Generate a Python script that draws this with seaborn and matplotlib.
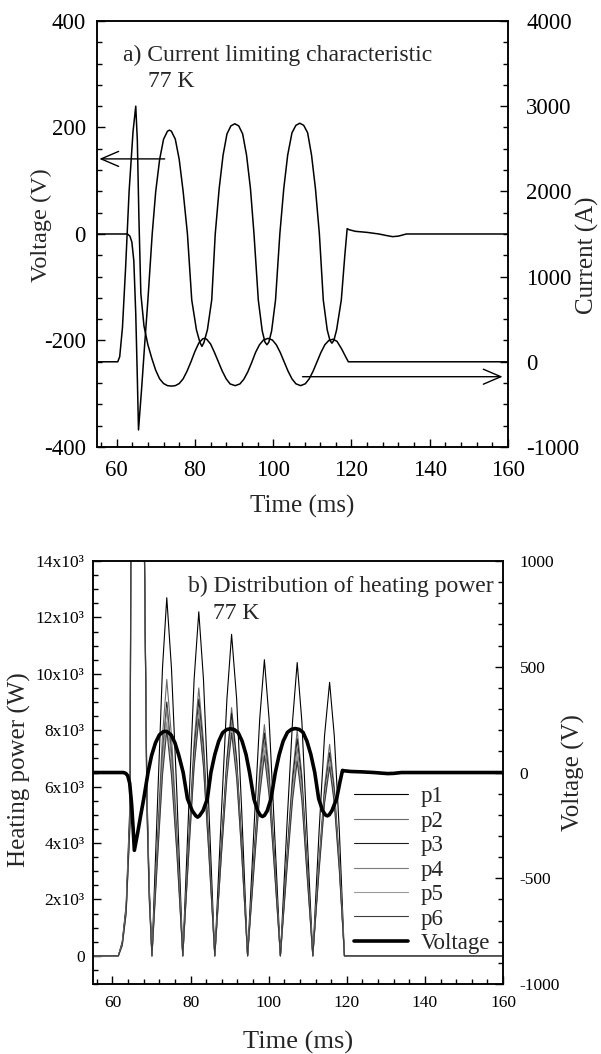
import matplotlib
matplotlib.use('Agg')
import matplotlib.pyplot as plt
from matplotlib.ticker import MultipleLocator
import seaborn as sns

# ---- data ----
# (a) voltage across limiter (V) and line current (A)
t_volt = [55, 62.8, 63.4, 63.9, 64.4, 64.9, 65.3, 65.6, 66.4, 67.2, 68.0, 69.1,
          70.0, 71.0, 72.0, 73.0, 73.5, 74.0, 75.0, 76.0, 77.0, 78.1,
          79.2, 80.4, 81.3, 81.8, 82.3, 83.2, 84.3,
          85.2, 86.2, 87.2, 88.2, 89.2, 90.2, 91.2, 92.2, 93.2, 94.2, 95.1,
          96.2, 97.2, 97.9, 98.4, 98.9, 99.6, 100.6,
          101.7, 102.7, 103.7, 104.8, 105.8, 106.8, 107.8, 108.8, 109.8, 110.8, 111.8,
          112.8, 113.8, 114.5, 115.0, 115.5, 116.2, 117.4,
          118.3, 118.9, 119.4, 121, 124, 127, 129, 130.5, 132, 134, 160]
voltage = [0, 0, -4, -15, -50, -150, -270, -368, -290, -205, -124, 0,
           80, 140, 178, 193, 195, 193, 178, 140, 80, 0,
           -124, -180, -204, -211, -204, -180, -124,
           0, 85, 148, 188, 203, 207, 203, 188, 148, 85, 0,
           -124, -182, -203, -208, -203, -182, -124,
           0, 85, 148, 190, 204, 208, 204, 190, 148, 85, 0,
           -124, -180, -200, -205, -200, -180, -124,
           -40, 10, 8, 5, 3, 0, -3, -5, -4, 0, 0]

t_curr = [55, 60.3, 60.8, 61.5, 62.3, 63.2, 64.2, 64.9, 65.3, 65.7,
          66.2, 67.0, 68.0, 69.0, 70.0, 71.0, 72.0, 73.0, 74.0, 75.0,
          76.0, 77.0, 78.0, 79.0, 80.0, 81.0, 82.0, 82.5, 83.0, 84.0,
          85.0, 86.0, 87.0, 88.0, 89.0, 90.3, 91.5, 92.5, 93.5, 94.5,
          95.5, 96.5, 97.5, 98.7, 99.8, 100.8, 101.8, 102.8, 103.8, 104.8,
          105.8, 107.0, 108.2, 109.2, 110.2, 111.2, 112.2, 113.2, 114.2, 115.3,
          116.3, 117.5, 118.5, 119.2, 160]
current = [0, 0, 60, 400, 1100, 2000, 2700, 3000, 2600, 1700,
           800, 420, 200, 40, -100, -200, -255, -280, -285, -280,
           -255, -200, -110, 0, 120, 220, 270, 275, 265, 210,
           110, 0, -110, -200, -260, -280, -260, -205, -120, -10,
           110, 200, 255, 275, 255, 200, 110, 0, -110, -200,
           -258, -280, -258, -200, -110, 0, 110, 200, 250, 265,
           240, 150, 60, 0, 0]

# (b) heating power of the six parts (W)
t_power = [55, 61.5, 62.5, 63.5, 64.5, 65.2, 67.8, 68.2, 68.8, 69.4,
           70.1, 71.6, 72.8, 73.9, 75.1, 76.5,
           78.0, 79.6, 80.9, 82.1, 83.3, 84.6,
           86.2, 87.9, 89.3, 90.5, 91.8, 93.1,
           94.6, 96.3, 97.7, 98.9, 100.1, 101.4,
           103.0, 104.7, 106.1, 107.3, 108.5, 109.7,
           111.3, 112.9, 114.3, 115.6, 116.8, 118.1,
           119.4, 160]
p1 = [0, 0, 500, 1800, 5500, 40000, 40000, 14000, 6000, 2500,
      0, 5700, 10200, 12700, 10200, 5700,
      0, 5500, 9800, 12200, 9800, 5500,
      0, 5100, 9100, 11400, 9100, 5100,
      0, 4700, 8400, 10500, 8400, 4700,
      0, 4700, 8300, 10400, 8300, 4700,
      0, 4400, 7800, 9700, 7800, 4400,
      0, 0]
p2 = [0, 0, 450, 1700, 5200, 40000, 40000, 14000, 5800, 2400,
      0, 4400, 7800, 9800, 7800, 4400,
      0, 4300, 7600, 9500, 7600, 4300,
      0, 4000, 7000, 8800, 7000, 4000,
      0, 3700, 6600, 8200, 6600, 3700,
      0, 3600, 6400, 8000, 6400, 3600,
      0, 3400, 6000, 7500, 6000, 3400,
      0, 0]
p3 = [0, 0, 420, 1650, 5000, 40000, 40000, 14000, 5600, 2300,
      0, 4000, 7200, 9000, 7200, 4000,
      0, 4100, 7300, 9100, 7300, 4100,
      0, 3900, 6900, 8600, 6900, 3900,
      0, 3600, 6300, 7900, 6300, 3600,
      0, 3500, 6200, 7700, 6200, 3500,
      0, 3200, 5800, 7200, 5800, 3200,
      0, 0]
p4 = [0, 0, 400, 1600, 4900, 40000, 40000, 14000, 5500, 2200,
      0, 4000, 7000, 8800, 7000, 4000,
      0, 4000, 7000, 8800, 7000, 4000,
      0, 3700, 6600, 8300, 6600, 3700,
      0, 3400, 6100, 7600, 6100, 3400,
      0, 3300, 5900, 7400, 5900, 3300,
      0, 3200, 5600, 7000, 5600, 3200,
      0, 0]
p5 = [0, 0, 380, 1550, 4800, 40000, 40000, 14000, 5400, 2100,
      0, 3700, 6600, 8300, 6600, 3700,
      0, 3800, 6800, 8500, 6800, 3800,
      0, 3600, 6500, 8100, 6500, 3600,
      0, 3300, 5800, 7300, 5800, 3300,
      0, 3200, 5700, 7100, 5700, 3200,
      0, 3100, 5500, 6900, 5500, 3100,
      0, 0]
p6 = [0, 0, 360, 1500, 4700, 40000, 40000, 14000, 5300, 2000,
      0, 3600, 6400, 8000, 6400, 3600,
      0, 3800, 6700, 8400, 6700, 3800,
      0, 3600, 6300, 7900, 6300, 3600,
      0, 3200, 5700, 7100, 5700, 3200,
      0, 3100, 5500, 6900, 5500, 3100,
      0, 3000, 5400, 6700, 5400, 3000,
      0, 0]
power_names = ['p1', 'p2', 'p3', 'p4', 'p5', 'p6']
power_series = [p1, p2, p3, p4, p5, p6]
power_colors = ['#000000', '#6a6a6a', '#1e1e1e', '#7a7a7a', '#9a9a9a', '#3c3c3c']

power_ticks = [0, 2000, 4000, 6000, 8000, 10000, 12000, 14000]
power_tick_labels = ['0', '2x10³', '4x10³', '6x10³', '8x10³', '10x10³', '12x10³', '14x10³']

sns.set_theme(style='ticks')
plt.rcParams['font.family'] = ['Liberation Serif', 'DejaVu Serif']
plt.rcParams['axes.linewidth'] = 1.1
plt.rcParams['axes.unicode_minus'] = False

fig = plt.figure(figsize=(6.01, 10.54), dpi=100)


def style_axis(ax, size):
    ax.tick_params(which='both', direction='in', width=1, colors='black',
                   labelsize=size)
    ax.tick_params(which='major', length=6)
    ax.tick_params(which='minor', length=3.5)
    for s in ax.spines.values():
        s.set_color('black')
        s.set_linewidth(1.1)


# ---------------------------
# a) current limiting characteristic
# ---------------------------
ax1 = fig.add_axes([0.1614, 0.5759, 0.684, 0.4042])
ax2 = ax1.twinx()

sns.lineplot(x=t_volt, y=voltage, ax=ax1, color='black', linewidth=1.1,
             estimator=None, sort=False)
sns.lineplot(x=t_curr, y=current, ax=ax2, color='black', linewidth=1.1,
             estimator=None, sort=False)

ax1.set_xlim(55, 160)
ax1.set_ylim(-400, 400)
ax2.set_ylim(-1000, 4000)
ax1.xaxis.set_major_locator(MultipleLocator(20))
ax1.xaxis.set_minor_locator(MultipleLocator(4))
ax1.yaxis.set_major_locator(MultipleLocator(200))
ax1.yaxis.set_minor_locator(MultipleLocator(40))
ax2.yaxis.set_major_locator(MultipleLocator(1000))
ax2.yaxis.set_minor_locator(MultipleLocator(250))
style_axis(ax1, 16.5)
style_axis(ax2, 16.5)
ax1.tick_params(axis='y', pad=8)
ax1.tick_params(axis='x', pad=9)
ax2.tick_params(axis='y', pad=13)

ax1.set_xlabel('Time (ms)', fontsize=18)
ax1.set_ylabel('Voltage (V)', fontsize=17.5)
ax2.set_ylabel('Current (A)', fontsize=18)
ax1.yaxis.set_label_coords(-0.11, 0.52)
ax2.yaxis.set_label_coords(1.165, 0.45)
ax1.xaxis.set_label_coords(0.5, -0.112)

ax1.text(0.063, 0.92, 'a) Current limiting characteristic', transform=ax1.transAxes,
         fontsize=17, va='center', ha='left')
ax1.text(0.124, 0.857, '77 K', transform=ax1.transAxes,
         fontsize=17, va='center', ha='left')

arrow_kw = dict(arrowstyle='->,head_length=0.7,head_width=0.3', color='black',
                lw=1, shrinkA=0, shrinkB=0, mutation_scale=18)
ax1.annotate('', xy=(55.6, 141), xytext=(72.3, 141), arrowprops=arrow_kw)
ax2.annotate('', xy=(158.6, -175), xytext=(107.5, -175), arrowprops=arrow_kw)

# ---------------------------
# b) distribution of heating power
# ---------------------------
ax3 = fig.add_axes([0.1547, 0.0664, 0.6822, 0.4013])
ax4 = ax3.twinx()

for name, vals, col in zip(power_names, power_series, power_colors):
    sns.lineplot(x=t_power, y=vals, ax=ax3, color=col, linewidth=0.8,
                 estimator=None, sort=False, label=name)
sns.lineplot(x=t_volt, y=voltage, ax=ax4, color='black', linewidth=2.6,
             estimator=None, sort=False, label='Voltage')
for a in (ax3, ax4):
    if a.get_legend() is not None:
        a.get_legend().remove()

ax3.set_xlim(55, 160)
ax3.set_ylim(-1000, 14000)
ax4.set_ylim(-1000, 1000)
ax3.xaxis.set_major_locator(MultipleLocator(20))
ax3.xaxis.set_minor_locator(MultipleLocator(4))
ax3.set_yticks(power_ticks)
ax3.set_yticklabels(power_tick_labels)
ax3.yaxis.set_minor_locator(MultipleLocator(500))
ax4.yaxis.set_major_locator(MultipleLocator(500))
ax4.yaxis.set_minor_locator(MultipleLocator(100))
style_axis(ax3, 12.5)
style_axis(ax4, 12.5)
ax3.tick_params(axis='y', pad=6)
ax3.tick_params(axis='x', pad=8)
ax4.tick_params(axis='y', pad=12)

ax3.set_xlabel('Time (ms)', fontsize=19)
ax3.set_ylabel('Heating power (W)', fontsize=18)
ax4.set_ylabel('Voltage (V)', fontsize=18)
ax3.yaxis.set_label_coords(-0.151, 0.506)
ax4.yaxis.set_label_coords(1.144, 0.5)
ax3.xaxis.set_label_coords(0.5, -0.112)

ax3.text(0.232, 0.941, 'b) Distribution of heating power', transform=ax3.transAxes,
         fontsize=17, va='center', ha='left')
ax3.text(0.293, 0.877, '77 K', transform=ax3.transAxes,
         fontsize=17, va='center', ha='left')

h3, l3 = ax3.get_legend_handles_labels()
h4, l4 = ax4.get_legend_handles_labels()
ax4.legend(h3 + h4, l3 + l4, loc='lower left', bbox_to_anchor=(0.637, 0.071),
           frameon=False, fontsize=16.5, borderpad=0, borderaxespad=0,
           handlelength=2.35, handletextpad=0.55, labelspacing=0.15)

fig.savefig('out.png', dpi=100)
